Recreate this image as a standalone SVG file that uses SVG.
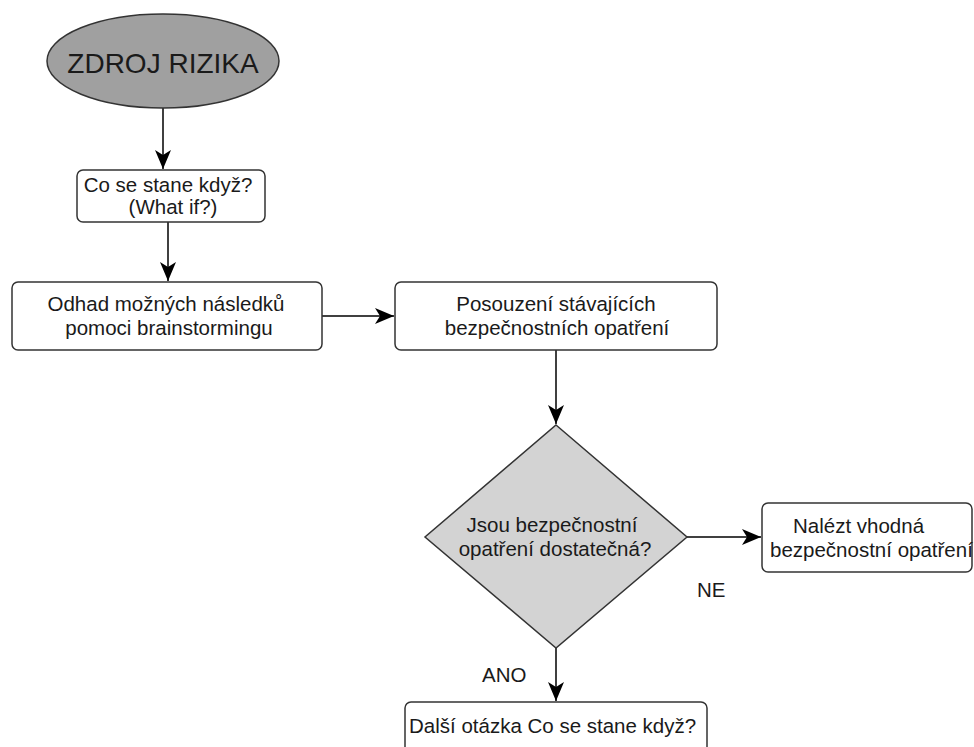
<svg xmlns="http://www.w3.org/2000/svg" width="974" height="747" viewBox="0 0 974 747">
  <style>
    text { font-family: "Liberation Sans", Arial, sans-serif; font-size: 20.5px; fill: #1a1a1a; }
    .mid { text-anchor: middle; }
    .box { fill: #ffffff; stroke: #333333; stroke-width: 1.5; }
    .edge { fill: none; stroke: #000000; stroke-width: 1.5; marker-end: url(#arrow); }
  </style>
  <defs>
    <marker id="arrow" markerUnits="userSpaceOnUse" markerWidth="22" markerHeight="20" viewBox="-20 -10 22 20" refX="0" refY="0" orient="auto">
      <path d="M0,0 L-19,-8 L-14,0 L-19,8 Z" fill="#000000"/>
    </marker>
  </defs>

  <rect width="974" height="747" fill="#ffffff"/>

  <!-- connectors -->
  <g id="connectors">
    <line class="edge" x1="163" y1="108" x2="163" y2="169"/>
    <line class="edge" x1="168" y1="222" x2="168" y2="281"/>
    <line class="edge" x1="322" y1="316" x2="394" y2="316"/>
    <line class="edge" x1="556" y1="350" x2="556" y2="424"/>
    <line class="edge" x1="687" y1="537" x2="761" y2="537"/>
    <line class="edge" x1="556" y1="648" x2="556" y2="701"/>
    <text x="697" y="597">NE</text>
    <text x="482" y="682">ANO</text>
  </g>

  <!-- start: source of risk -->
  <g id="zdroj">
    <ellipse cx="163" cy="61" rx="116" ry="47" fill="#a0a0a0" stroke="#333333" stroke-width="1.5"/>
    <text class="mid" x="163" y="73" style="font-size:28px">ZDROJ RIZIKA</text>
  </g>

  <g id="whatif">
    <rect class="box" x="77" y="170" width="188" height="52" rx="6"/>
    <text class="mid" x="168" y="192">Co se stane když?</text>
    <text class="mid" x="173" y="214">(What if?)</text>
  </g>

  <g id="odhad">
    <rect class="box" x="12" y="282" width="310" height="68" rx="6"/>
    <text class="mid" x="166" y="311">Odhad možných následků</text>
    <text class="mid" x="169" y="335">pomoci brainstormingu</text>
  </g>

  <g id="posouzeni">
    <rect class="box" x="395" y="282" width="322" height="68" rx="6"/>
    <text class="mid" x="556" y="311">Posouzení stávajících</text>
    <text class="mid" x="557" y="335">bezpečnostních opatření</text>
  </g>

  <g id="rozhodnuti">
    <polygon points="556,425 687,537 556,648 425,537" fill="#d3d3d3" stroke="#333333" stroke-width="1.5"/>
    <text class="mid" x="552" y="532">Jsou bezpečnostní</text>
    <text class="mid" x="555" y="556">opatření dostatečná?</text>
  </g>

  <g id="nalezt">
    <rect class="box" x="762" y="503" width="210" height="69" rx="6"/>
    <text x="793" y="533">Nalézt vhodná</text>
    <text x="770" y="557">bezpečnostní opatření</text>
  </g>

  <g id="dalsi">
    <rect class="box" x="405" y="702" width="302" height="60" rx="6"/>
    <text x="409" y="733">Další otázka Co se stane když?</text>
  </g>
</svg>
